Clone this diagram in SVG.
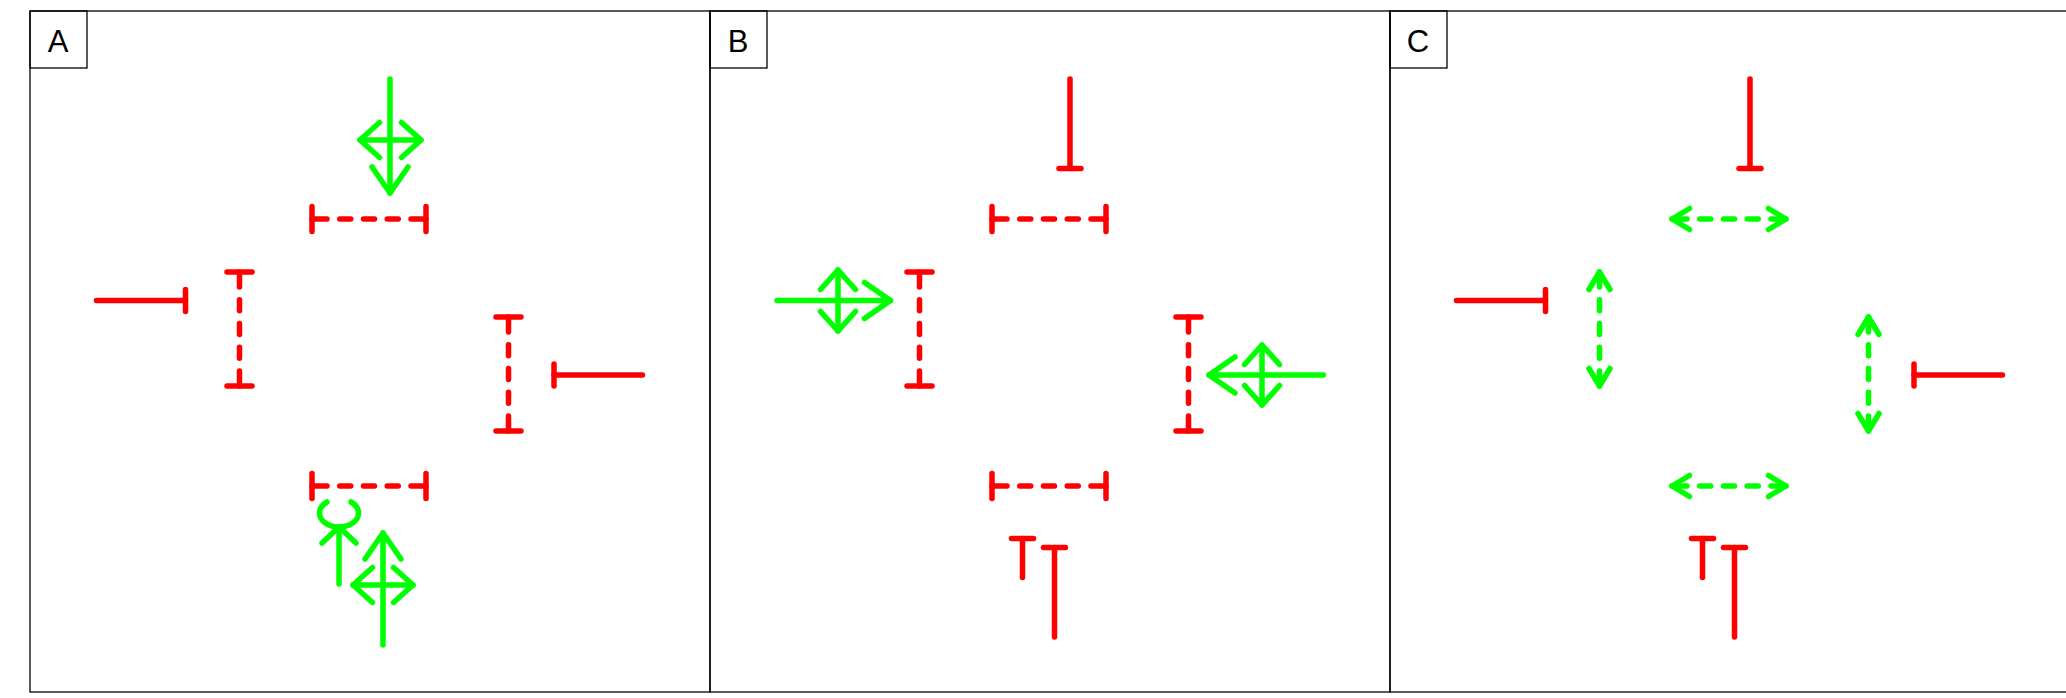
<svg xmlns="http://www.w3.org/2000/svg" width="2066" height="698" viewBox="0 0 2066 698">
<style>
  .frame{fill:none;stroke:#000;stroke-width:1.3}
  .lbl{font-family:"Liberation Sans",Arial,sans-serif;font-size:31px;fill:#000;text-anchor:middle}
  .r{fill:none;stroke:#ff0000;stroke-width:5.5;stroke-linecap:round;stroke-linejoin:round}
  .g{fill:none;stroke:#00ff00;stroke-width:5.5;stroke-linecap:round;stroke-linejoin:round}
  .d{stroke-dasharray:15 12.75 11 12.75 11 12.75 11 12.75 15}
  .inh{marker-end:url(#tbInh)}
  .tt{marker-start:url(#tbDash);marker-end:url(#tbDash)}
  .main{marker-end:url(#ahMain)}
  .cross{marker-start:url(#ahCross);marker-end:url(#ahCross)}
  .small{marker-end:url(#ahSmall)}
  .dd{marker-start:url(#ahDash);marker-end:url(#ahDash)}
</style>
<defs>
  <marker id="ahMain" markerUnits="userSpaceOnUse" orient="auto-start-reverse" viewBox="-40 -40 80 80" markerWidth="80" markerHeight="80" refX="0" refY="0" overflow="visible">
    <path d="M-26,-18 L0,0 L-26,18" fill="none" stroke="#00ff00" stroke-width="5.5" stroke-linecap="round" stroke-linejoin="round"/>
  </marker>
  <marker id="ahCross" markerUnits="userSpaceOnUse" orient="auto-start-reverse" viewBox="-40 -40 80 80" markerWidth="80" markerHeight="80" refX="0" refY="0" overflow="visible">
    <path d="M-19.5,-17.5 L0,0 L-19.5,17.5" fill="none" stroke="#00ff00" stroke-width="5.5" stroke-linecap="round" stroke-linejoin="round"/>
  </marker>
  <marker id="ahSmall" markerUnits="userSpaceOnUse" orient="auto-start-reverse" viewBox="-40 -40 80 80" markerWidth="80" markerHeight="80" refX="0" refY="0" overflow="visible">
    <path d="M-16,-17 L0,0 L-16,17" fill="none" stroke="#00ff00" stroke-width="5.5" stroke-linecap="round" stroke-linejoin="round"/>
  </marker>
  <marker id="ahDash" markerUnits="userSpaceOnUse" orient="auto-start-reverse" viewBox="-40 -40 80 80" markerWidth="80" markerHeight="80" refX="0" refY="0" overflow="visible">
    <path d="M-17.5,-10.5 L0,0 L-17.5,10.5" fill="none" stroke="#00ff00" stroke-width="5.5" stroke-linecap="round" stroke-linejoin="round"/>
  </marker>
  <marker id="tbDash" markerUnits="userSpaceOnUse" orient="auto" viewBox="-40 -40 80 80" markerWidth="80" markerHeight="80" refX="0" refY="0" overflow="visible">
    <path d="M0,-12.5 L0,12.5" fill="none" stroke="#ff0000" stroke-width="5.5" stroke-linecap="round"/>
  </marker>
  <marker id="tbInh" markerUnits="userSpaceOnUse" orient="auto" viewBox="-40 -40 80 80" markerWidth="80" markerHeight="80" refX="0" refY="0" overflow="visible">
    <path d="M0,-11 L0,11" fill="none" stroke="#ff0000" stroke-width="5.5" stroke-linecap="round"/>
  </marker>
</defs>
<rect x="0" y="0" width="2066" height="698" fill="#fff"/>

<g id="panelA">
  <rect class="frame" x="30" y="11" width="680" height="681"/>
  <rect class="frame" x="30" y="11" width="57" height="57"/>
  <text class="lbl" x="58" y="52">A</text>
</g>
<g id="panelB">
  <rect class="frame" x="710" y="11" width="680" height="681"/>
  <rect class="frame" x="710" y="11" width="57" height="57"/>
  <text class="lbl" x="738" y="52">B</text>
</g>
<g id="panelC">
  <rect class="frame" x="1390" y="11" width="680" height="681"/>
  <rect class="frame" x="1390" y="11" width="57" height="57"/>
  <text class="lbl" x="1418" y="52">C</text>
</g>

<g id="connectors">
  <g id="connA">
    <line class="r d tt" x1="312" y1="219" x2="426" y2="219"/>
    <line class="r d tt" x1="312" y1="486" x2="426" y2="486"/>
    <line class="r d tt" x1="239.5" y1="272" x2="239.5" y2="386"/>
    <line class="r d tt" x1="508.5" y1="317" x2="508.5" y2="431"/>
    <line class="r inh" x1="96.5" y1="300.5" x2="185.5" y2="300.5"/>
    <line class="r inh" x1="642.5" y1="375" x2="554" y2="375"/>
    <line class="g main" x1="390" y1="79" x2="390" y2="193"/>
    <line class="g cross" x1="360" y1="140" x2="421" y2="140"/>
    <line class="g main" x1="383" y1="645" x2="383" y2="533"/>
    <line class="g cross" x1="353" y1="585" x2="413" y2="585"/>
    <line class="g small" x1="339" y1="584" x2="339" y2="527"/>
    <path class="g" d="M327,502 A19.5,14 0 1 0 351,502"/>
  </g>
  <g id="connB">
    <line class="r inh" x1="1070" y1="79" x2="1070" y2="168.5"/>
    <line class="r d tt" x1="992" y1="219" x2="1106" y2="219"/>
    <line class="r d tt" x1="992" y1="486" x2="1106" y2="486"/>
    <line class="r d tt" x1="919.5" y1="272" x2="919.5" y2="386"/>
    <line class="r d tt" x1="1188.5" y1="317" x2="1188.5" y2="431"/>
    <line class="g main" x1="777" y1="300.5" x2="890.5" y2="300.5"/>
    <line class="g cross" x1="838" y1="270" x2="838" y2="331"/>
    <line class="g main" x1="1323.5" y1="375" x2="1209" y2="375"/>
    <line class="g cross" x1="1262" y1="345" x2="1262" y2="405"/>
    <line class="r inh" x1="1022.5" y1="577.5" x2="1022.5" y2="538.5"/>
    <line class="r inh" x1="1054.5" y1="637" x2="1054.5" y2="547.5"/>
  </g>
  <g id="connC">
    <line class="r inh" x1="1750" y1="79" x2="1750" y2="168.5"/>
    <line class="g d dd" x1="1672" y1="219" x2="1786" y2="219"/>
    <line class="g d dd" x1="1672" y1="486" x2="1786" y2="486"/>
    <line class="g d dd" x1="1599.5" y1="272" x2="1599.5" y2="386"/>
    <line class="g d dd" x1="1868.5" y1="317" x2="1868.5" y2="431"/>
    <line class="r inh" x1="1456.5" y1="300.5" x2="1545.5" y2="300.5"/>
    <line class="r inh" x1="2002.5" y1="375" x2="1914" y2="375"/>
    <line class="r inh" x1="1702.5" y1="577.5" x2="1702.5" y2="538.5"/>
    <line class="r inh" x1="1734.5" y1="637" x2="1734.5" y2="547.5"/>
  </g>
</g>
</svg>
